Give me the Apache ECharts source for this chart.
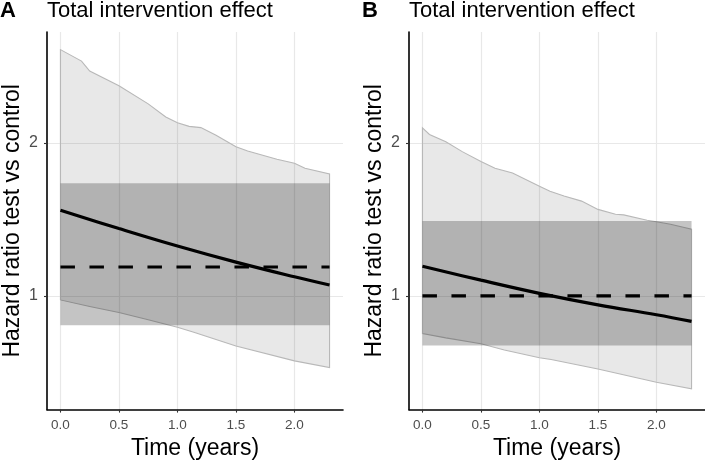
<!DOCTYPE html>
<html>
<head>
<meta charset="utf-8">
<script src="https://cdn.jsdelivr.net/npm/echarts@6/dist/echarts.min.js"></script>
<style>html,body{margin:0;padding:0;background:#fff}#c{width:705px;height:465px}</style>
</head>
<body>
<div id="c"></div>
<script>
// ---- text ----
const panelLetters = ['A', 'B'];
const panelTitles = ['Total intervention effect', 'Total intervention effect'];
const xTitle = 'Time (years)';
const yTitle = 'Hazard ratio test vs control';
const xTicks = [0, 0.5, 1.0, 1.5, 2.0];
const yTicks = [1, 2];

// ---- panel A ----
const upperTimeA = [0, 0.18, 0.25, 0.5, 0.75, 0.9, 1.0, 1.1, 1.2, 1.33, 1.5, 1.6, 1.85, 2.0, 2.09, 2.3];
const upperA     = [2.608, 2.533, 2.468, 2.372, 2.254, 2.168, 2.131, 2.107, 2.099, 2.049, 1.974, 1.946, 1.892, 1.866, 1.834, 1.797];
const lowerTimeA = [0, 0.25, 0.5, 0.75, 1.0, 1.14, 1.5, 2.0, 2.3];
const lowerA     = [0.974, 0.931, 0.892, 0.845, 0.795, 0.763, 0.673, 0.576, 0.533];
const curveTimeA = [0, 0.5, 1.0, 1.5, 2.0, 2.3];
const curveA     = [1.559, 1.44, 1.326, 1.221, 1.125, 1.071];
const constA     = 1.189;
const constCiA   = [0.808, 1.735];

// ---- panel B ----
const upperTimeB = [0, 0.06, 0.2, 0.34, 0.5, 0.62, 0.77, 1.0, 1.09, 1.21, 1.36, 1.5, 1.65, 1.72, 1.92, 2.0, 2.12, 2.3];
const upperB     = [2.097, 2.054, 2.006, 1.942, 1.877, 1.834, 1.802, 1.716, 1.684, 1.652, 1.619, 1.565, 1.533, 1.529, 1.494, 1.484, 1.468, 1.436];
const lowerTimeB = [0, 0.2, 0.5, 0.7, 1.0, 1.1, 1.5, 2.0, 2.3];
const lowerB     = [0.755, 0.726, 0.688, 0.647, 0.597, 0.585, 0.523, 0.436, 0.394];
const curveTimeB = [0, 0.5, 1.0, 1.5, 2.0, 2.3];
const curveB     = [1.194, 1.103, 1.017, 0.942, 0.877, 0.834];
const constB     = 1.0;
const constCiB   = [0.677, 1.490];

const FONT = 'Liberation Sans, Arial, Helvetica, sans-serif';
const tEnd = 2.3;

function bandSeries(idx, tu, u, tl, l) {
  return {
    type: 'custom', xAxisIndex: idx, yAxisIndex: idx, z: 1, silent: true,
    data: [[tu[0], u[0]]],
    renderItem: function (params, api) {
      const pts = [];
      for (let i = 0; i < tu.length; i++) pts.push(api.coord([tu[i], u[i]]));
      for (let i = tl.length - 1; i >= 0; i--) pts.push(api.coord([tl[i], l[i]]));
      return {
        type: 'polygon',
        shape: { points: pts },
        style: { fill: 'rgba(0,0,0,0.09)', stroke: '#b8b8b8', lineWidth: 1.1 }
      };
    }
  };
}
function rectSeries(idx, ci) {
  return {
    type: 'custom', xAxisIndex: idx, yAxisIndex: idx, z: 2, silent: true,
    data: [[0, tEnd, ci[0], ci[1]]],
    renderItem: function (params, api) {
      const p1 = api.coord([api.value(0), api.value(3)]);
      const p2 = api.coord([api.value(1), api.value(2)]);
      return {
        type: 'rect',
        shape: { x: p1[0], y: p1[1], width: p2[0] - p1[0], height: p2[1] - p1[1] },
        style: { fill: 'rgba(0,0,0,0.23)' }
      };
    }
  };
}
function dashSeries(idx, v) {
  return {
    type: 'line', xAxisIndex: idx, yAxisIndex: idx, z: 3, silent: true,
    symbol: 'none', data: [[0, v], [tEnd, v]],
    lineStyle: { color: '#000', width: 3.2, type: [14.5, 14.5] }
  };
}
function curveSeries(idx, t, v) {
  return {
    type: 'line', xAxisIndex: idx, yAxisIndex: idx, z: 4, silent: true,
    symbol: 'none', smooth: 0.4, data: t.map((x, i) => [x, v[i]]),
    lineStyle: { color: '#000', width: 3.2 }
  };
}

const grids = [
  { left: 47, width: 296, top: 32, bottom: 51, containLabel: false },
  { left: 409, width: 296, top: 32, bottom: 51, containLabel: false }
];

function xAxisFor(idx) {
  return {
    type: 'value', gridIndex: idx, min: -0.115, max: 2.415,
    name: xTitle, nameLocation: 'middle', nameGap: 20.5,
    nameTextStyle: { fontFamily: FONT, fontSize: 23, color: '#000' },
    axisLine: { show: true, onZero: false, lineStyle: { color: '#000', width: 1.6 } },
    axisTick: { show: true, length: 3, customValues: xTicks, lineStyle: { color: '#333', width: 1.1 } },
    axisLabel: { customValues: xTicks, margin: 8.5, fontFamily: FONT, fontSize: 13.5, color: '#4d4d4d',
      formatter: v => v.toFixed(1) },
    splitLine: { show: true, lineStyle: { color: '#e8e8e8', width: 1.2 } }
  };
}
function yAxisFor(idx) {
  return {
    type: 'value', gridIndex: idx, min: 0.258, max: 2.723,
    name: yTitle, nameLocation: 'middle', nameGap: 23, nameRotate: 90,
    nameTextStyle: { fontFamily: FONT, fontSize: 23, color: '#000' },
    axisLine: { show: true, onZero: false, lineStyle: { color: '#000', width: 1.6 } },
    axisTick: { show: true, length: 3, customValues: yTicks, lineStyle: { color: '#333', width: 1.1 } },
    axisLabel: { customValues: yTicks, margin: 9, fontFamily: FONT, fontSize: 16, color: '#4d4d4d',
      formatter: v => String(Math.round(v)) },
    splitLine: { show: true, lineStyle: { color: '#e8e8e8', width: 1.2 } }
  };
}

const titles = [];
const letterX = [0, 362];
const titleX = [47, 409];
for (let i = 0; i < 2; i++) {
  titles.push({ text: panelLetters[i], left: letterX[i], top: 0, padding: 0,
    textStyle: { fontFamily: FONT, fontSize: 22, fontWeight: 'bold', color: '#000' } });
  titles.push({ text: panelTitles[i], left: titleX[i], top: 0, padding: 0,
    textStyle: { fontFamily: FONT, fontSize: 22, fontWeight: 'normal', color: '#000' } });
}

const chart = echarts.init(document.getElementById('c'), null, { renderer: 'canvas' });
chart.setOption({
  animation: false,
  backgroundColor: '#fff',
  title: titles,
  grid: grids,
  xAxis: [xAxisFor(0), xAxisFor(1)],
  yAxis: [yAxisFor(0), yAxisFor(1)],
  series: [
    bandSeries(0, upperTimeA, upperA, lowerTimeA, lowerA),
    rectSeries(0, constCiA),
    dashSeries(0, constA),
    curveSeries(0, curveTimeA, curveA),
    bandSeries(1, upperTimeB, upperB, lowerTimeB, lowerB),
    rectSeries(1, constCiB),
    dashSeries(1, constB),
    curveSeries(1, curveTimeB, curveB)
  ]
});
</script>
</body>
</html>
